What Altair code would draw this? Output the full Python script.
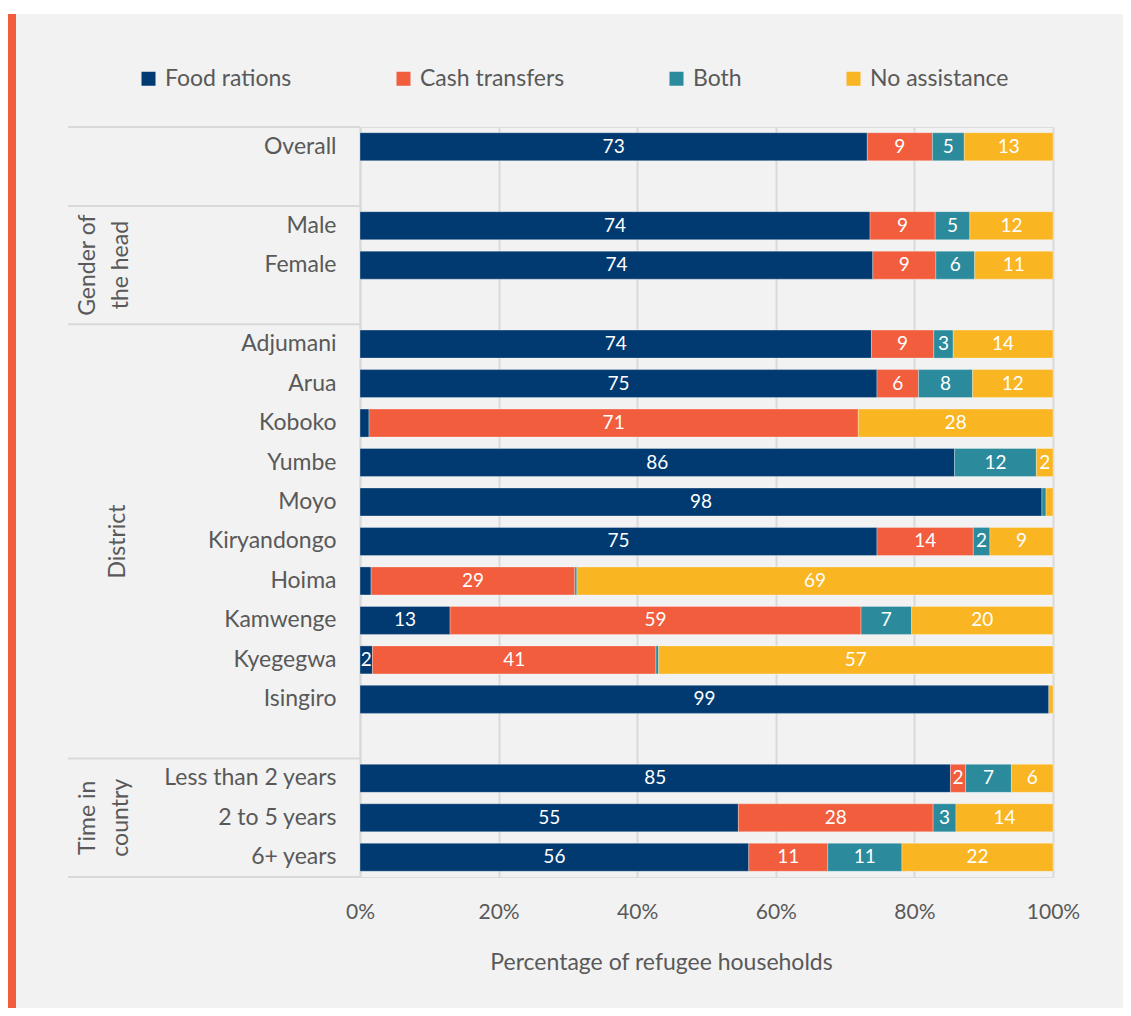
import altair as alt
import pandas as pd

# ---------------- data ----------------
categories = ["Overall", "Male", "Female", "Adjumani", "Arua", "Koboko", "Yumbe", "Moyo",
              "Kiryandongo", "Hoima", "Kamwenge", "Kyegegwa", "Isingiro",
              "Less than 2 years", "2 to 5 years", "6+ years"]
food = [73.2, 73.6, 74.0, 73.8, 74.6, 1.3, 85.8, 98.4, 74.6, 1.6, 13.0, 1.8, 99.4, 85.2, 54.6, 56.1]
cash = [9.4, 9.4, 9.1, 9.0, 6.0, 70.6, 0, 0, 13.9, 29.4, 59.3, 40.9, 0, 2.2, 28.1, 11.4]
both = [4.6, 5.0, 5.6, 2.8, 7.8, 0, 11.8, 0.6, 2.4, 0.3, 7.3, 0.4, 0, 6.6, 3.3, 10.7]
no_assist = [12.8, 12.0, 11.3, 14.4, 11.6, 28.1, 2.4, 1.0, 9.1, 68.7, 20.4, 56.9, 0.6, 6.0, 14.0, 21.8]

types = ["Food rations", "Cash transfers", "Both", "No assistance"]
colors = ["#003a70", "#f15d3d", "#2b8b9c", "#fab523"]

# row slots (blank slots separate the groups)
slots = ["Overall", "gap1", "Male", "Female", "gap2", "Adjumani", "Arua", "Koboko", "Yumbe",
         "Moyo", "Kiryandongo", "Hoima", "Kamwenge", "Kyegegwa", "Isingiro", "gap3",
         "Less than 2 years", "2 to 5 years", "6+ years"]

group_labels = [["Gender of", "the head"], ["District"], ["Time in", "country"]]
group_start = [2, 5, 16]
group_end = [5, 16, 19]
separators = [0, 2, 5, 16, 19]

x_ticks = [0, 20, 40, 60, 80, 100]

# ---------------- tables ----------------
rows = []
for i, c in enumerate(categories):
    for k, (t, vals) in enumerate(zip(types, [food, cash, both, no_assist])):
        if vals[i] > 0:
            rows.append({"cat": c, "type": t, "ord": k, "value": vals[i]})
df = pd.DataFrame(rows)

grp = pd.DataFrame({"label": group_labels,
                    "nlines": [len(g) for g in group_labels],
                    "center": [(a + b) / 2 for a, b in zip(group_start, group_end)]})
sep = pd.DataFrame({"b": separators})
deco = pd.DataFrame({"d": [0]})

TXT = "#595959"
GRID = "#d9d9d9"
FONT = "Lato"

y_scale = alt.Scale(domain=slots, paddingInner=0.29, paddingOuter=0.145)
y_axis = alt.Axis(title=None, labelFontSize=23, labelColor=TXT, labelPadding=24,
                  ticks=False, domain=True, domainColor=GRID, domainWidth=2,
                  labelLimit=400, labelFont=FONT,
                  labelExpr="indexof(datum.value, 'gap') === 0 ? '' : datum.value")
x_scale = alt.Scale(domain=[0, 100], nice=False, zero=True)
x_axis = alt.Axis(values=x_ticks, labelExpr="datum.value + '%'", labelFontSize=21,
                  labelColor=TXT, labelPadding=24, labelFlush=False, domain=False, ticks=False,
                  grid=True, gridColor=GRID, gridWidth=2,
                  title="Percentage of refugee households", titleFontSize=23,
                  titleFontWeight="normal", titleColor=TXT, titlePadding=29,
                  titleX=301, labelFont=FONT, titleFont=FONT)
q_scale = alt.Scale(domain=[0, 19], reverse=True, nice=False, zero=False)

bars = alt.Chart(df).mark_bar(stroke="#ffffff", strokeWidth=0.6, strokeOpacity=0.5).encode(
    y=alt.Y("cat:N", scale=y_scale, axis=y_axis, sort=slots),
    x=alt.X("value:Q", stack="zero", scale=x_scale, axis=x_axis),
    color=alt.Color("type:N", scale=alt.Scale(domain=types, range=colors),
                    legend=alt.Legend(orient="none", legendX=-223, legendY=-60,
                                      direction="horizontal", title=None,
                                      symbolType="square", symbolSize=196,
                                      symbolStrokeWidth=0, labelFontSize=23,
                                      labelColor=TXT, labelFont=FONT,
                                      columnPadding=100, labelOffset=5, padding=0,
                                      labelLimit=300)),
    order=alt.Order("ord:Q"),
)

labels = alt.Chart(df).transform_stack(
    stack="value", groupby=["cat"], as_=["v0", "v1"], sort=[alt.SortField("ord")]
).transform_calculate(
    mid="(datum.v0 + datum.v1) / 2"
).transform_filter(
    "datum.value >= 1.75"
).mark_text(color="white", fontSize=19, font=FONT, baseline="middle", align="center").encode(
    y=alt.Y("cat:N", scale=y_scale, axis=None, sort=slots),
    x=alt.X("mid:Q", scale=x_scale, axis=x_axis),
    text=alt.Text("value:Q", format=".0f"),
)

seps = alt.Chart(sep).mark_rule(color=GRID, strokeWidth=2).encode(
    y=alt.Y("b:Q", scale=q_scale, axis=None),
    x=alt.value(-292),
    x2=alt.value(0),
)

glabel_style = dict(angle=270, align="center", baseline="bottom",
                    fontSize=23, font=FONT, color=TXT, lineHeight=33)
glabels1 = alt.Chart(grp).transform_filter("datum.nlines == 1").mark_text(**glabel_style).encode(
    y=alt.Y("center:Q", scale=q_scale, axis=None),
    x=alt.value(-230),
    text="label",
)
glabels2 = alt.Chart(grp).transform_filter("datum.nlines == 2").mark_text(**glabel_style).encode(
    y=alt.Y("center:Q", scale=q_scale, axis=None),
    x=alt.value(-260),
    text="label",
)

orange_bar = alt.Chart(deco).mark_rect(color="#f15d3d").encode(
    x=alt.value(-352), x2=alt.value(-344), y=alt.value(-113), y2=alt.value(881)
)
top_strip = alt.Chart(deco).mark_rect(color="white").encode(
    x=alt.value(-360), x2=alt.value(770), y=alt.value(-127), y2=alt.value(-113)
)

chart = alt.layer(top_strip, orange_bar, seps, bars, labels, glabels1, glabels2).resolve_scale(
    y="independent"
).properties(
    width=693, height=750,
    autosize=alt.AutoSizeParams(type="none"),
    padding={"left": 352, "top": 119, "right": 70, "bottom": 131},
    background="#f2f2f2",
).configure_view(strokeWidth=0).configure(font=FONT)

chart.save("out.html", embed_options={"renderer": "svg", "actions": False})
